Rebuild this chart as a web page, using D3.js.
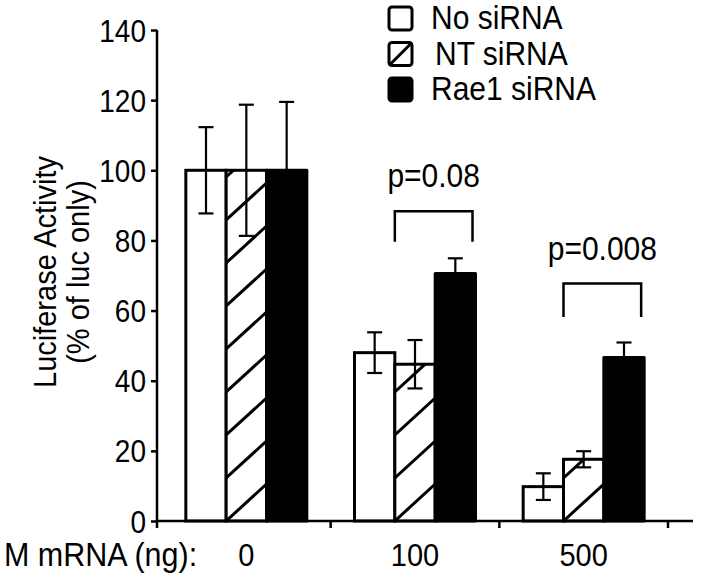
<!DOCTYPE html>
<html>
<head>
<meta charset="utf-8">
<script src="https://cdn.jsdelivr.net/npm/d3@7"></script>
<style>
  html, body { margin: 0; padding: 0; background: #fff; }
  svg { display: block; }
  text { font-family: "Liberation Sans", Arial, sans-serif; fill: #000; }
</style>
</head>
<body>
<svg id="chart" width="701" height="586"></svg>
<script>
// ---------- data ----------
const categories = ["0", "100", "500"];
const seriesNames = ["No siRNA", "NT siRNA", "Rae1 siRNA"];
const noSiRNA = [100, 48.0, 9.8];
const noSiRNAErr = [12.3, 5.8, 3.8];
const ntSiRNA = [100, 44.7, 17.6];
const ntSiRNAErr = [18.7, 6.9, 2.3];
const rae1SiRNA = [100, 70.6, 46.6];
const rae1SiRNAErr = [19.5, 4.3, 4.3];
const yTicks = [0, 20, 40, 60, 80, 100, 120, 140];
const xAxisTitle = "M mRNA (ng):";
const yTitleLines = ["Luciferase Activity", "(% of luc only)"];
const pLabels = ["p=0.08", "p=0.008"];
const pCategories = ["100", "500"];
const pBracketTop = [88.3, 67.7];
const pBracketBottom = [79.6, 58.2];

// ---------- layout ----------
const svg = d3.select("#chart");
const y = d3.scaleLinear().domain([0, 140]).range([521, 30]);
const x = d3.scaleBand().domain(categories).range([162, 668]).paddingInner(0.2826).paddingOuter(0.1413);
const xs = d3.scaleBand().domain(seriesNames).range([0, x.bandwidth()]).padding(0);
const SY = 1.1; // vertical stretch of lettering

const seriesVals = [noSiRNA, ntSiRNA, rae1SiRNA];
const seriesErr = [noSiRNAErr, ntSiRNAErr, rae1SiRNAErr];
const bars = [];
categories.forEach((c, ci) => {
  seriesNames.forEach((s, si) => {
    bars.push({ cat: c, ser: s, si, v: seriesVals[si][ci], e: seriesErr[si][ci] });
  });
});

const defs = svg.append("defs");

function label(parent, tx, ty, str, size, anchor, rot) {
  return parent.append("text")
    .attr("transform", `translate(${tx},${ty})${rot ? " rotate(" + rot + ")" : ""} scale(1,${SY})`)
    .attr("text-anchor", anchor || "start").attr("font-size", size).text(str);
}

// bars
const gBars = svg.append("g");
bars.forEach((b, i) => {
  const bx = x(b.cat) + xs(b.ser);
  const bw = xs.bandwidth();
  const by = y(b.v);
  const bh = y(0) - y(b.v);
  if (b.si === 2) {
    gBars.append("rect").attr("x", bx).attr("y", by).attr("width", bw).attr("height", bh)
      .attr("fill", "#000").attr("stroke", "#000").attr("stroke-width", 3).attr("stroke-linejoin", "round");
  } else {
    gBars.append("rect").attr("x", bx).attr("y", by).attr("width", bw).attr("height", bh)
      .attr("fill", "#fff");
    if (b.si === 1) {
      const cid = "clip" + i;
      defs.append("clipPath").attr("id", cid).append("rect")
        .attr("x", bx).attr("y", by).attr("width", bw).attr("height", bh);
      const hg = gBars.append("g").attr("clip-path", `url(#${cid})`);
      const period = 43, rise = 37;
      for (let yy = y(0); yy > by - period; yy -= period) {
        hg.append("line").attr("x1", bx).attr("y1", yy).attr("x2", bx + bw).attr("y2", yy - rise)
          .attr("stroke", "#000").attr("stroke-width", 3);
      }
    }
    gBars.append("rect").attr("x", bx).attr("y", by).attr("width", bw).attr("height", bh)
      .attr("fill", "none").attr("stroke", "#000").attr("stroke-width", 3);
  }
});

// error bars
const gErr = svg.append("g").attr("stroke", "#000").attr("stroke-width", 2.2);
bars.forEach(b => {
  const cx = x(b.cat) + xs(b.ser) + xs.bandwidth() / 2;
  const capW = 7.5;
  gErr.append("line").attr("x1", cx).attr("x2", cx).attr("y1", y(b.v + b.e)).attr("y2", y(b.v - b.e));
  gErr.append("line").attr("x1", cx - capW).attr("x2", cx + capW).attr("y1", y(b.v + b.e)).attr("y2", y(b.v + b.e));
  gErr.append("line").attr("x1", cx - capW).attr("x2", cx + capW).attr("y1", y(b.v - b.e)).attr("y2", y(b.v - b.e));
});

// y axis
const gy = svg.append("g").attr("transform", "translate(157,0)")
  .call(d3.axisLeft(y).tickValues(yTicks).tickSize(6).tickPadding(5));
gy.select(".domain").attr("stroke-width", 2.5).attr("d", `M0,${y(140)}V${y(0) + 7}`);
gy.selectAll(".tick line").attr("stroke-width", 2.5);
gy.selectAll(".tick text").attr("font-size", 28).attr("font-family", "Liberation Sans, Arial, sans-serif")
  .attr("dy", "0.36em").attr("transform", `scale(1,${SY})`);

// x axis line + ticks at category boundaries
const gx = svg.append("g");
gx.append("line").attr("x1", 157).attr("x2", 693).attr("y1", y(0)).attr("y2", y(0))
  .attr("stroke", "#000").attr("stroke-width", 2.5);
categories.forEach((c, i) => {
  const tx = x(c) + x.bandwidth() + x.step() * x.paddingInner() / 2;
  gx.append("line").attr("x1", tx).attr("x2", tx).attr("y1", y(0)).attr("y2", y(0) + 7)
    .attr("stroke", "#000").attr("stroke-width", 2.5);
  label(gx, x(c) + x.bandwidth() / 2, 566, c, 29, "middle");
});
label(gx, 4, 566, xAxisTitle, 30.5, "start");

// y title
yTitleLines.forEach((t, i) => {
  label(svg, 56 + i * 33, 272, t, 29, "middle", -90);
});

// p-value brackets
pCategories.forEach((c, i) => {
  const x1 = x(c) + xs(seriesNames[1]);
  const x2 = x(c) + xs(seriesNames[2]) + xs.bandwidth() - 3;
  const top = y(pBracketTop[i]), bot = y(pBracketBottom[i]);
  svg.append("path").attr("d", `M${x1},${bot}V${top}H${x2}V${bot}`)
    .attr("fill", "none").attr("stroke", "#000").attr("stroke-width", 2.5);
  label(svg, (x1 + x2) / 2, top - 24, pLabels[i], 30, "middle");
});

// legend
const legY = d3.scalePoint().domain(seriesNames).range([7, 78]);
seriesNames.forEach((s, i) => {
  const ly = legY(s);
  svg.append("rect").attr("x", 389).attr("y", ly).attr("width", 23).attr("height", 23)
    .attr("rx", 3).attr("fill", i === 2 ? "#000" : "#fff").attr("stroke", "#000").attr("stroke-width", 3);
  if (i === 1) {
    svg.append("line").attr("x1", 389).attr("y1", ly + 23).attr("x2", 412).attr("y2", ly)
      .attr("stroke", "#000").attr("stroke-width", 3);
  }
  label(svg, i === 1 ? 435 : 431, ly + 22, s, 30, "start");
});
</script>
</body>
</html>
